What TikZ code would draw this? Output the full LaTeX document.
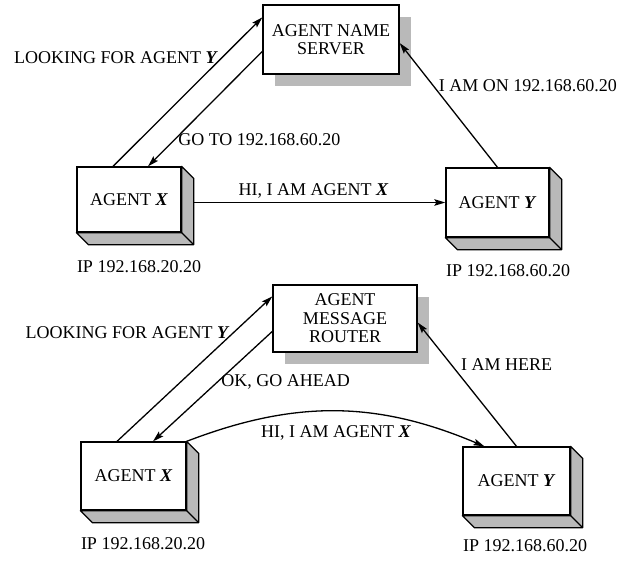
\documentclass[tikz,border=0pt]{standalone}
\usepackage{fontspec}
\setmainfont{Liberation Serif}
\usetikzlibrary{calc,positioning,arrows.meta,shadows}

\begin{document}
\begin{tikzpicture}[x=1pt,y=-1pt,>={Stealth[length=11pt,width=6.5pt,inset=2pt]},line width=1.3pt,
    every node/.style={font=\fontsize{18}{18.5}\selectfont},
    agent/.style={draw,fill=white,inner sep=0pt},
    hub/.style={draw,fill=white,align=center,inner sep=0pt,
        drop shadow={shadow xshift=12pt,shadow yshift=-12pt,fill=gray!55,opacity=1}},
    side/.style={draw=black,fill=gray!55,line join=round},
    iplbl/.style={anchor=base west,inner sep=0pt}]
    \useasboundingbox (0,0) rectangle (623,562);
    %
    \node[hub,minimum width=136pt,minimum height=69pt] (srv) at (331,39.5) {AGENT NAME\\SERVER};
    \node[agent,minimum width=104pt,minimum height=65pt] (xa) at (129,199.5) {AGENT \textbf{\textit{X}}};
    \node[agent,minimum width=103pt,minimum height=69pt] (ya) at (497.5,202.5) {AGENT \textbf{\textit{Y}}};
    \node[iplbl] (ipxa) at ([yshift=-40pt]xa.south west) {IP 192.168.20.20};
    \node[iplbl] (ipya) at ([yshift=-39pt]ya.south west) {IP 192.168.60.20};
    %
    \node[hub,minimum width=144pt,minimum height=67pt] (rtr) at (345,318.5) {AGENT\\MESSAGE\\ROUTER};
    \node[agent,minimum width=105pt,minimum height=68pt] (xb) at (133.5,476) {AGENT \textbf{\textit{X}}};
    \node[agent,minimum width=107pt,minimum height=68pt] (yb) at (516.5,481) {AGENT \textbf{\textit{Y}}};
    \node[iplbl] (ipxb) at ([yshift=-39pt]xb.south west) {IP 192.168.20.20};
    \node[iplbl] (ipyb) at ([yshift=-36pt]yb.south west) {IP 192.168.60.20};
    %
    \draw[->] ([xshift=-16pt]xa.north) -- node[pos=0.73,left]{LOOKING FOR AGENT \textbf{\textit{Y}}} ([yshift=-13pt]srv.north west);
    \draw[->] ([yshift=-47pt]srv.north west) -- node[pos=0.77,right]{GO TO 192.168.60.20} ([xshift=19pt]xa.north);
    \draw[->] (ya.north) -- node[pos=0.66,right=2pt]{I AM ON 192.168.60.20} ([yshift=-3.5pt]srv.east);
    \draw[->] (xa.east |- ya.west) -- node[above]{HI, I AM AGENT \textbf{\textit{X}}} (ya.west);
    %
    \draw[->] ([xshift=-16.5pt]xb.north) -- node[pos=0.75,left]{LOOKING FOR AGENT \textbf{\textit{Y}}} ([yshift=-12pt]rtr.north west);
    \draw[->] ([yshift=-47pt]rtr.north west) -- node[pos=0.46,right]{OK, GO AHEAD} ([xshift=19.5pt]xb.north);
    \draw[->] (yb.north) -- node[pos=0.66,right=6pt]{I AM HERE} ([yshift=-4pt]rtr.east);
    \draw[->] (xb.north east) to[bend left=22] node[midway,below=10pt]{HI, I AM AGENT \textbf{\textit{X}}} ([xshift=22pt]yb.north west);
    %
    \foreach \n in {xa,ya,xb,yb}{
        \draw[side] (\n.north east) -- ++(12,12) -- ($(\n.south east)+(12,12)$) -- ($(\n.south west)+(12,12)$) -- (\n.south west) -- (\n.south east) -- cycle;
        \draw (\n.south east) -- ++(12,12);
    }
\end{tikzpicture}
\end{document}
